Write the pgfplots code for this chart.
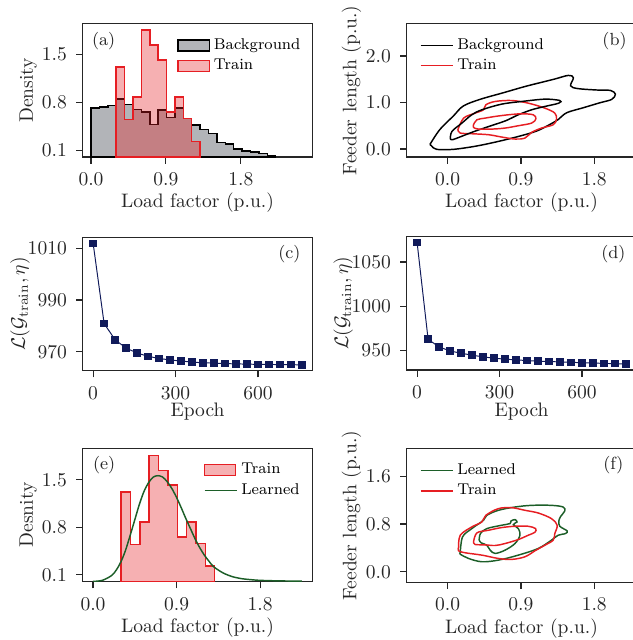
\documentclass[border=0pt]{standalone}
\usepackage{pgfplots}
\pgfplotsset{compat=1.18}
\definecolor{bggray}{RGB}{178,180,184}
\definecolor{trainred}{RGB}{230,30,35}
\definecolor{navy}{RGB}{16,26,90}
\definecolor{lgreen}{RGB}{28,94,40}
\definecolor{framec}{RGB}{38,38,38}

\pgfplotsset{
  panel/.style={
    scale only axis, width=117.6pt, height=68.35pt, anchor=south west,
    tick align=outside, tick pos=left, major tick length=3.4pt,
    axis line style={framec, line width=0.6pt},
    every tick/.style={framec, line width=0.6pt},
    tick label style={font=\normalsize, text=framec},
    xticklabel style={yshift=-1.2pt}, yticklabel style={xshift=-1.2pt},
    label style={text=framec},
    xlabel style={at={(axis description cs:0.5,-0.345)}, anchor=center},
    ylabel style={anchor=center},
    /pgf/number format/1000 sep={},
    legend style={draw=none, fill=none, font=\footnotesize, anchor=north west, row sep=-0.5pt},
    legend cell align=left,
  },
  onedec/.style={
    x tick label style={/pgf/number format/.cd, fixed, fixed zerofill, precision=1, /tikz/.cd},
    y tick label style={/pgf/number format/.cd, fixed, fixed zerofill, precision=1, /tikz/.cd},
  },
  patchleg/.style={legend image code/.code={\draw[##1, line width=0.75pt] (0pt,-2.8pt) rectangle (16pt,2.8pt);}},
  lineleg/.style={legend image code/.code={\draw[##1, line width=0.75pt] (0pt,0pt) -- (16.5pt,0pt);}},
  contour/.style={line width=0.75pt, smooth, tension=0.55, lineleg},
}

\begin{document}
\begin{tikzpicture}
\useasboundingbox (0pt,0pt) rectangle (324.1pt,327.7pt);

% (a) load factor histograms
\begin{axis}[panel, onedec, at={(42.34pt,247.3pt)},
  xmin=-0.1, xmax=2.66, ymin=0, ymax=1.954,
  xtick={0,0.9,1.8}, ytick={0.1,0.8,1.5},
  xlabel={Load factor (p.u.)}, ylabel={Density},
  ylabel style={at={(axis description cs:-0.237,0.5)}},
  legend style={at={(0.385,0.95)}}]
\addplot[patchleg, const plot, draw=black, line width=0.75pt, fill=bggray] coordinates {
(0,0) (0,0.716) (0.1009,0.730) (0.2018,0.753) (0.3027,0.850) (0.4036,0.768)
(0.5045,0.696) (0.6054,0.657) (0.7063,0.478) (0.8072,0.691) (0.9081,0.575)
(1.0090,0.720) (1.1099,0.567) (1.2108,0.468) (1.3117,0.405) (1.4126,0.343)
(1.5135,0.216) (1.6144,0.193) (1.7153,0.115) (1.8162,0.091) (1.9171,0.071)
(2.0180,0.048) (2.1189,0.023) (2.2198,0)} \closedcycle;
\addlegendentry{Background}
\addplot[patchleg, const plot, draw=trainred, line width=0.75pt, fill=trainred, fill opacity=0.35] coordinates {
(0.3027,0) (0.3027,1.32) (0.4036,0.55) (0.5045,0.88) (0.6054,1.86) (0.7063,1.64)
(0.8072,1.42) (0.9081,0.66) (1.0090,0.88) (1.1099,0.56) (1.2108,0.23) (1.3117,0)} \closedcycle;
\addlegendentry{Train}
\node[font=\small, text=framec] at (rel axis cs:0.091,0.868) {(a)};
\end{axis}

% (b) joint density contours
\begin{axis}[panel, onedec, at={(208.23pt,247.3pt)},
  xmin=-0.503, xmax=2.317, ymin=-0.172, ymax=2.70,
  xtick={0,0.9,1.8}, ytick={0,1,2},
  xlabel={Load factor (p.u.)}, ylabel={Feeder length (p.u.)},
  ylabel style={at={(axis description cs:-0.24,0.5)}},
  legend style={at={(0.03,0.95)}}]
\addplot[contour, black] coordinates {
(-0.217,0.100) (-0.094,0.423) (0.070,0.710) (0.192,0.925) (0.397,1.068) (0.684,1.211)
(0.971,1.355) (1.298,1.498) (1.482,1.584) (1.544,1.534) (1.51,1.36) (1.60,1.30)
(1.83,1.27) (2.00,1.26) (2.06,1.18) (2.015,1.068) (1.871,0.996) (1.667,0.889)
(1.462,0.781) (1.360,0.638) (1.257,0.530) (1.093,0.387) (0.889,0.280) (0.643,0.172)
(0.356,0.065) (0.070,-0.007) (-0.135,-0.007) (-0.197,0.065) (-0.217,0.100)};
\addlegendentry{Background}
\addplot[contour, trainred] coordinates {
(0.126,0.415) (0.196,0.665) (0.338,0.773) (0.440,0.844) (0.469,0.951) (0.583,1.023)
(0.786,1.044) (0.990,0.987) (1.194,0.880) (1.316,0.773) (1.337,0.644) (1.296,0.522)
(1.153,0.451) (1.031,0.358) (0.949,0.236) (0.827,0.215) (0.664,0.258) (0.501,0.308)
(0.297,0.329) (0.155,0.343) (0.126,0.415)};
\addlegendentry{Train}
\addplot[contour, black, forget plot] coordinates {
(0.033,0.215) (0.053,0.379) (0.175,0.558) (0.297,0.737) (0.420,0.844) (0.664,0.966)
(0.909,1.023) (1.194,1.073) (1.377,1.044) (1.365,0.987) (1.194,0.916) (1.031,0.844)
(0.868,0.737) (0.715,0.610) (0.531,0.500) (0.330,0.380) (0.152,0.260) (0.060,0.200)
(0.033,0.215)};
\addplot[contour, trainred, forget plot] coordinates {
(0.318,0.522) (0.359,0.629) (0.460,0.665) (0.583,0.701) (0.746,0.737) (0.909,0.758)
(1.051,0.737) (1.084,0.651) (1.031,0.558) (0.868,0.501) (0.705,0.451) (0.542,0.429)
(0.379,0.429) (0.318,0.465) (0.318,0.522)};
\node[font=\small, text=framec] at (rel axis cs:0.905,0.868) {(b)};
\end{axis}

% (c) training loss
\begin{axis}[panel, at={(42.34pt,137.88pt)},
  xmin=-38, xmax=798, ymin=962.65, ymax=1014.25,
  xtick={0,300,600}, ytick={970,990,1010},
  xlabel={Epoch}, ylabel={$\mathcal{L}(\mathcal{G}_{\mathrm{train}},\eta)$},
  xlabel style={at={(axis description cs:0.5,-0.31)}},
  ylabel style={at={(axis description cs:-0.273,0.5)}}]
\addplot[navy, line width=0.5pt, mark=square*, mark size=1.7pt, mark options={fill=navy}] coordinates {
(0,1011.9) (40,980.9) (80,974.6) (120,971.4) (160,969.5) (200,968.2) (240,967.4)
(280,966.8) (320,966.4) (360,966.0) (400,965.7) (440,965.6) (480,965.4) (520,965.3)
(560,965.2) (600,965.1) (640,965.1) (680,965.0) (720,965.0) (760,964.9)};
\node[font=\small, text=framec] at (rel axis cs:0.90,0.872) {(c)};
\end{axis}

% (d) training loss
\begin{axis}[panel, at={(208.23pt,138.24pt)},
  xmin=-38, xmax=798, ymin=927.6, ymax=1078.8,
  xtick={0,300,600}, ytick={950,1000,1050},
  xlabel={Epoch}, ylabel={$\mathcal{L}(\mathcal{G}_{\mathrm{train}},\eta)$},
  xlabel style={at={(axis description cs:0.5,-0.31)}},
  ylabel style={at={(axis description cs:-0.276,0.5)}}]
\addplot[navy, line width=0.5pt, mark=square*, mark size=1.7pt, mark options={fill=navy}] coordinates {
(0,1071.9) (40,962.4) (80,953.7) (120,949.2) (160,946.6) (200,944.4) (240,942.5)
(280,941.0) (320,939.9) (360,939.1) (400,938.3) (440,937.6) (480,937.2) (520,936.8)
(560,936.3) (600,935.9) (640,935.5) (680,935.1) (720,934.8) (760,934.5)};
\node[font=\small, text=framec] at (rel axis cs:0.90,0.872) {(d)};
\end{axis}

% (e) train histogram and learned density
\begin{axis}[panel, onedec, at={(42.34pt,29.85pt)},
  xmin=-0.111, xmax=2.363, ymin=0, ymax=1.964,
  xtick={0,0.9,1.8}, ytick={0.1,0.8,1.5},
  xlabel={Load factor (p.u.)}, ylabel={Desnity},
  ylabel style={at={(axis description cs:-0.237,0.5)}},
  legend style={at={(0.50,0.95)}}]
\addplot[patchleg, const plot, draw=trainred, line width=0.75pt, fill=trainred, fill opacity=0.35] coordinates {
(0.3027,0) (0.3027,1.32) (0.4036,0.55) (0.5045,0.88) (0.6054,1.86) (0.7063,1.64)
(0.8072,1.42) (0.9081,0.66) (1.0090,0.88) (1.1099,0.56) (1.2108,0.23) (1.3117,0)} \closedcycle;
\addlegendentry{Train}
\addplot[lineleg, lgreen, line width=0.75pt, smooth] coordinates {
(0.00,0.004) (0.10,0.02) (0.20,0.09) (0.25,0.17) (0.30,0.29) (0.35,0.46) (0.40,0.68)
(0.45,0.91) (0.50,1.14) (0.55,1.33) (0.60,1.46) (0.65,1.54) (0.70,1.56) (0.75,1.54)
(0.80,1.47) (0.85,1.37) (0.90,1.24) (0.95,1.09) (1.00,0.93) (1.05,0.78) (1.10,0.63)
(1.15,0.50) (1.20,0.39) (1.25,0.30) (1.30,0.22) (1.40,0.13) (1.50,0.075) (1.60,0.045)
(1.70,0.03) (1.80,0.02) (2.00,0.012) (2.25,0.008)};
\addlegendentry{Learned}
\node[font=\small, text=framec] at (rel axis cs:0.093,0.875) {(e)};
\end{axis}

% (f) learned vs train contours
\begin{axis}[panel, onedec, at={(208.23pt,29.54pt)},
  xmin=-0.503, xmax=2.317, ymin=-0.177, ymax=2.057,
  xtick={0,0.9,1.8}, ytick={0,0.8,1.6},
  xlabel={Load factor (p.u.)}, ylabel={Feeder length (p.u.)},
  ylabel style={at={(axis description cs:-0.24,0.5)}},
  legend style={at={(0.03,0.95)}}]
\addplot[contour, lgreen] coordinates {
(0.155,0.317) (0.183,0.583) (0.297,0.722) (0.440,0.861) (0.481,0.944) (0.623,1.028)
(0.827,1.083) (1.031,1.111) (1.275,1.111) (1.418,1.083) (1.438,1.017) (1.389,0.928)
(1.365,0.850) (1.377,0.761) (1.467,0.683) (1.447,0.639) (1.357,0.611) (1.275,0.528)
(1.112,0.389) (0.868,0.278) (0.623,0.194) (0.420,0.167) (0.257,0.222) (0.155,0.294)
(0.155,0.317)};
\addlegendentry{Learned}
\addplot[contour, trainred] coordinates {
(0.134,0.406) (0.155,0.611) (0.297,0.750) (0.420,0.833) (0.469,0.944) (0.623,1.056)
(0.786,1.072) (0.949,1.028) (1.112,0.983) (1.275,0.889) (1.345,0.778) (1.316,0.639)
(1.296,0.528) (1.194,0.444) (1.072,0.350) (0.949,0.250) (0.786,0.206) (0.623,0.222)
(0.420,0.278) (0.216,0.317) (0.134,0.350) (0.134,0.406)};
\addlegendentry{Train}
\addplot[contour, lgreen, forget plot] coordinates {
(0.387,0.528) (0.403,0.639) (0.481,0.722) (0.664,0.778) (0.766,0.806) (0.778,0.850)
(0.827,0.872) (0.852,0.833) (0.807,0.789) (0.868,0.722) (0.888,0.611) (0.827,0.472)
(0.705,0.361) (0.583,0.306) (0.522,0.361) (0.481,0.444) (0.412,0.483) (0.387,0.528)};
\addplot[contour, trainred, forget plot] coordinates {
(0.318,0.500) (0.359,0.650) (0.501,0.694) (0.664,0.739) (0.827,0.761) (0.990,0.761)
(1.080,0.722) (1.072,0.661) (0.990,0.611) (0.868,0.539) (0.705,0.472) (0.583,0.439)
(0.460,0.450) (0.338,0.456) (0.318,0.500)};
\node[font=\small, text=framec] at (rel axis cs:0.90,0.875) {(f)};
\end{axis}
\end{tikzpicture}
\end{document}
